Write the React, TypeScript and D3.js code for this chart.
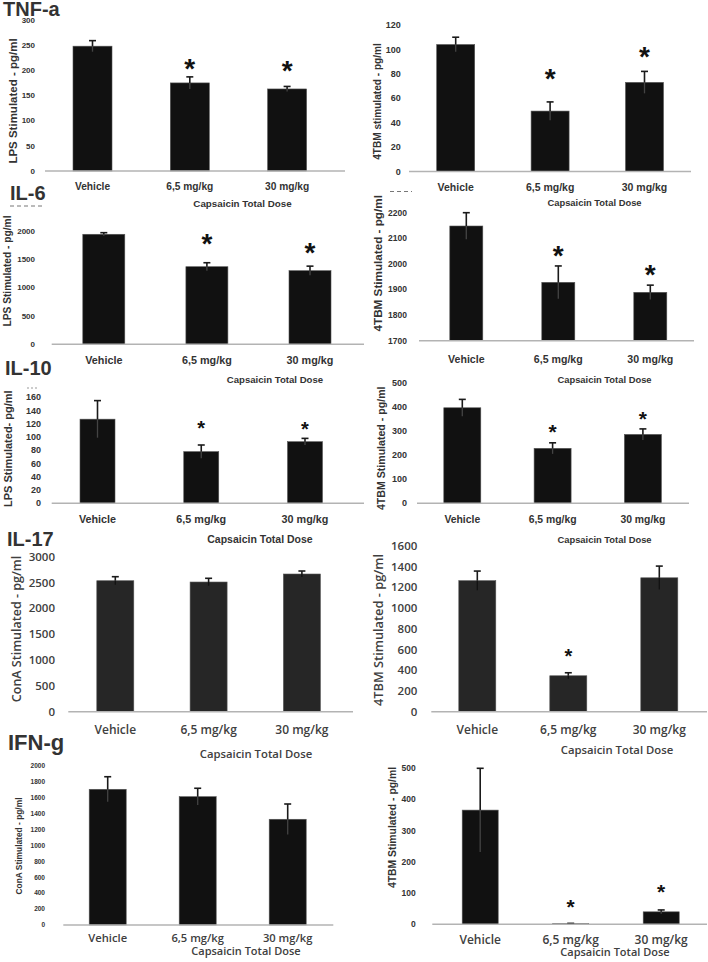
import React from "react";
import * as d3 from "d3";

const categories = ["Vehicle", "6,5 mg/kg", "30 mg/kg"];
const xAxisTitle = "Capsaicin Total Dose";
const rowTitles = ["TNF-a", "IL-6", "IL-10", "IL-17", "IFN-g"];

// TNF-a, LPS stimulated
const tnfLpsMean = [248, 175, 163];
const tnfLpsErr = [11, 12, 5];
const tnfLpsStar = [null, 218, 213];
const tnfLpsTicks = [0, 50, 100, 150, 200, 250, 300];

// TNF-a, 4TBM stimulated
const tnfTbmMean = [104, 49.5, 73];
const tnfTbmErr = [6, 7.5, 9];
const tnfTbmStar = [null, 82, 100];
const tnfTbmTicks = [0, 20, 40, 60, 80, 100, 120];

// IL-6, LPS stimulated
const il6LpsMean = [1937, 1366, 1296];
const il6LpsErr = [28, 70, 80];
const il6LpsStar = [null, 1894, 1731];
const il6LpsTicks = [0, 500, 1000, 1500, 2000];

// IL-6, 4TBM stimulated
const il6TbmMean = [2148, 1928, 1889];
const il6TbmErr = [52, 64, 28];
const il6TbmStar = [null, 2061, 1983];
const il6TbmTicks = [1700, 1800, 1900, 2000, 2100, 2200];

// IL-10, LPS stimulated
const il10LpsMean = [127, 78, 93];
const il10LpsErr = [28, 10, 5];
const il10LpsStar = [null, 121, 119];
const il10LpsTicks = [0, 20, 40, 60, 80, 100, 120, 140, 160];

// IL-10, 4TBM stimulated
const il10TbmMean = [398, 229, 287];
const il10TbmErr = [35, 23, 23];
const il10TbmStar = [null, 319, 371];
const il10TbmTicks = [0, 100, 200, 300, 400, 500];

// IL-17, ConA stimulated
const il17ConMean = [2535, 2510, 2665];
const il17ConErr = [78, 72, 58];
const il17ConStar = [null, null, null];
const il17ConTicks = [0, 500, 1000, 1500, 2000, 2500, 3000];

// IL-17, 4TBM stimulated
const il17TbmMean = [1265, 347, 1293];
const il17TbmErr = [93, 29, 113];
const il17TbmStar = [null, 579, null];
const il17TbmTicks = [0, 200, 400, 600, 800, 1000, 1200, 1400, 1600];

// IFN-g, ConA stimulated
const ifnConMean = [1707, 1614, 1330];
const ifnConErr = [158, 106, 192];
const ifnConStar = [null, null, null];
const ifnConTicks = [0, 200, 400, 600, 800, 1000, 1200, 1400, 1600, 1800, 2000];

// IFN-g, 4TBM stimulated
const ifnTbmMean = [366, 2, 40];
const ifnTbmErr = [134, 1, 6];
const ifnTbmStar = [null, 72, 120];
const ifnTbmTicks = [0, 100, 200, 300, 400, 500];

const yTitles = [
  "LPS Stimulated - pg/ml",
  "4TBM stimulated - pg/ml",
  "LPS Stimulated - pg/ml",
  "4TBM Stimulated - pg/ml",
  "LPS Stimulated- pg/ml",
  "4TBM Stimulated - pg/ml",
  "ConA Stimulated - pg/ml",
  "4TBM Stimulated - pg/ml",
  "ConA Stimulated - pg/ml",
  "4TBM Stimulated - pg/ml",
];

const LIB = "'Liberation Sans', Arial, sans-serif";
const OPEN = "'Open Sans', sans-serif";

type Layout = {
  yPix: [number, number];
  axisX: [number, number];
  c0: number; step: number; bw: number;
  tickX: number; tickSize: number; tickFam: string;
  xlabY: number; xlabSize: number; xlabFam: string;
  ylab: [number, number, number]; ylabFam: string;
  cap: [number, number, number]; capFam: string;
  starSize: number;
  fill: string;
};

const layouts: Layout[] = [
  { yPix: [171, 20], axisX: [45, 345], c0: 92.5, step: 97.3, bw: 39, tickX: 35, tickSize: 8, tickFam: LIB, xlabY: 190, xlabSize: 10.2, xlabFam: LIB, ylab: [12.5, 101, 11.5], ylabFam: LIB, cap: [242.5, 207.3, 9.8], capFam: LIB, starSize: 28, fill: "#111" },
  { yPix: [171.5, 25], axisX: [409, 691], c0: 455.7, step: 94.4, bw: 38, tickX: 400.7, tickSize: 9, tickFam: LIB, xlabY: 190.5, xlabSize: 10.5, xlabFam: LIB, ylab: [377, 101.5, 10.1], ylabFam: LIB, cap: [594.5, 206, 9.4], capFam: LIB, starSize: 28, fill: "#111" },
  { yPix: [344.3, 230.7], axisX: [51.7, 364], c0: 103.8, step: 103.1, bw: 42, tickX: 35, tickSize: 8, tickFam: LIB, xlabY: 363.5, xlabSize: 10.8, xlabFam: LIB, ylab: [7.5, 271, 10.2], ylabFam: LIB, cap: [275, 382.7, 9.6], capFam: LIB, starSize: 28, fill: "#111" },
  { yPix: [340.7, 212.7], axisX: [419, 694], c0: 466.3, step: 92, bw: 33, tickX: 407, tickSize: 8.5, tickFam: LIB, xlabY: 363.3, xlabSize: 10.6, xlabFam: LIB, ylab: [377.5, 263.3, 11.7], ylabFam: LIB, cap: [604.5, 382.7, 9.4], capFam: LIB, starSize: 28, fill: "#111" },
  { yPix: [503.3, 397.3], axisX: [51.7, 364], c0: 97.5, step: 103.75, bw: 35, tickX: 41, tickSize: 9, tickFam: LIB, xlabY: 523.3, xlabSize: 10.8, xlabFam: LIB, ylab: [7.5, 448.7, 11], ylabFam: LIB, cap: [260, 542.7, 10.5], capFam: LIB, starSize: 20, fill: "#111" },
  { yPix: [503.3, 383.3], axisX: [417, 689], c0: 462.3, step: 90.3, bw: 37, tickX: 407, tickSize: 9, tickFam: LIB, xlabY: 523.3, xlabSize: 10.4, xlabFam: LIB, ylab: [380.7, 448.3, 10.6], ylabFam: LIB, cap: [604.5, 543.3, 9.4], capFam: LIB, starSize: 21, fill: "#111" },
  { yPix: [711.7, 556.7], axisX: [68.3, 353], c0: 115.3, step: 93.3, bw: 37, tickX: 55, tickSize: 11.5, tickFam: OPEN, xlabY: 734.3, xlabSize: 12, xlabFam: OPEN, ylab: [16.7, 629, 12.5], ylabFam: OPEN, cap: [256, 757.7, 11.3], capFam: OPEN, starSize: 20, fill: "#262626" },
  { yPix: [711.7, 546], axisX: [431.3, 707], c0: 477.3, step: 91, bw: 37, tickX: 417.3, tickSize: 11.5, tickFam: OPEN, xlabY: 734.3, xlabSize: 12, xlabFam: OPEN, ylab: [378, 630, 12.8], ylabFam: OPEN, cap: [617, 754.3, 11.3], capFam: OPEN, starSize: 20, fill: "#262626" },
  { yPix: [925, 766], axisX: [63.3, 333.3], c0: 107.7, step: 90, bw: 37, tickX: 45, tickSize: 6.5, tickFam: LIB, xlabY: 941.7, xlabSize: 11.2, xlabFam: OPEN, ylab: [19, 846, 8.4], ylabFam: LIB, cap: [246, 955, 11], capFam: OPEN, starSize: 20, fill: "#111" },
  { yPix: [924.3, 768.3], axisX: [432.3, 707], c0: 480.2, step: 90.5, bw: 36, tickX: 415.7, tickSize: 8.5, tickFam: LIB, xlabY: 944, xlabSize: 12, xlabFam: OPEN, ylab: [392, 827.5, 10.4], ylabFam: LIB, cap: [615, 956, 11], capFam: OPEN, starSize: 21, fill: "#111" },
];

const means = [tnfLpsMean, tnfTbmMean, il6LpsMean, il6TbmMean, il10LpsMean, il10TbmMean, il17ConMean, il17TbmMean, ifnConMean, ifnTbmMean];
const errs = [tnfLpsErr, tnfTbmErr, il6LpsErr, il6TbmErr, il10LpsErr, il10TbmErr, il17ConErr, il17TbmErr, ifnConErr, ifnTbmErr];
const stars = [tnfLpsStar, tnfTbmStar, il6LpsStar, il6TbmStar, il10LpsStar, il10TbmStar, il17ConStar, il17TbmStar, ifnConStar, ifnTbmStar];
const ticks = [tnfLpsTicks, tnfTbmTicks, il6LpsTicks, il6TbmTicks, il10LpsTicks, il10TbmTicks, il17ConTicks, il17TbmTicks, ifnConTicks, ifnTbmTicks];

const titleLayout = [
  { x: 3, y: 15.5, size: 20 },
  { x: 10, y: 199.5, size: 20 },
  { x: 5, y: 374.5, size: 20 },
  { x: 7, y: 545.5, size: 20 },
  { x: 8, y: 750, size: 22 },
];

function Panel({ i }: { i: number }) {
  const L = layouts[i];
  const m = means[i];
  const e = errs[i];
  const s = stars[i];
  const t = ticks[i];
  const domain = [t[0], t[t.length - 1]];
  const y = d3.scaleLinear().domain(domain).range(L.yPix);
  const p = 1 - L.bw / L.step;
  const x = d3
    .scaleBand<string>()
    .domain(categories)
    .range([L.c0 - L.step / 2, L.c0 + 2.5 * L.step])
    .paddingInner(p)
    .paddingOuter(p / 2);
  const isOpen = (f: string) => f === OPEN;
  const col = (f: string) => (isOpen(f) ? "#404040" : "#333");
  const wt = (f: string) => (isOpen(f) ? 600 : "bold");
  const base = y(domain[0]);
  return (
    <g>
      {t.map((v) => (
        <text key={v} x={L.tickX} y={y(v)} dy="0.35em" textAnchor="end" fontFamily={L.tickFam} fontWeight={wt(L.tickFam)} fontSize={L.tickSize} fill={col(L.tickFam)}>
          {v}
        </text>
      ))}
      {categories.map((c, k) => {
        const bx = x(c) as number;
        const cx = bx + x.bandwidth() / 2;
        const top = y(m[k]);
        const eTop = y(m[k] + e[k]);
        const eBot = Math.min(base, y(m[k] - e[k]));
        return (
          <g key={c}>
            <rect x={bx} y={top} width={x.bandwidth()} height={base - top} fill={L.fill} stroke="#555" strokeWidth={0.6} />
            <line x1={cx} x2={cx} y1={top} y2={eBot} stroke={L.fill === "#111" ? "#444" : "#111"} strokeWidth={1.3} />
            <line x1={cx} x2={cx} y1={eTop} y2={top} stroke="#1a1a1a" strokeWidth={1.6} />
            <line x1={cx - 3.5} x2={cx + 3.5} y1={eTop} y2={eTop} stroke="#1a1a1a" strokeWidth={1.6} />
            {s[k] != null && (
              <text x={cx} y={y(s[k] as number) + 0.58 * L.starSize} textAnchor="middle" fontFamily={LIB} fontWeight="bold" fontSize={L.starSize} fill="#111">
                *
              </text>
            )}
            <text x={cx} y={L.xlabY} textAnchor="middle" fontFamily={L.xlabFam} fontWeight={wt(L.xlabFam)} fontSize={L.xlabSize} fill={col(L.xlabFam)}>
              {c}
            </text>
          </g>
        );
      })}
      <line x1={L.axisX[0]} x2={L.axisX[1]} y1={base} y2={base} stroke="#b3b3b3" strokeWidth={1.5} />
      <text transform={`translate(${L.ylab[0]},${L.ylab[1]}) rotate(-90)`} textAnchor="middle" dominantBaseline="central" fontFamily={L.ylabFam} fontWeight={wt(L.ylabFam)} fontSize={L.ylab[2]} fill={col(L.ylabFam)}>
        {yTitles[i]}
      </text>
      <text x={L.cap[0]} y={L.cap[1]} textAnchor="middle" fontFamily={L.capFam} fontWeight={wt(L.capFam)} fontSize={L.cap[2]} fill={col(L.capFam)}>
        {xAxisTitle}
      </text>
    </g>
  );
}

export default function App() {
  return (
    <div style={{ position: "absolute", left: 0, top: 0 }}>
      <svg width={708} height={962} viewBox="0 0 708 962" style={{ display: "block", background: "#fff" }}>
        <rect width={708} height={962} fill="#fff" />
        {rowTitles.map((tt, r) => (
          <text key={tt} x={titleLayout[r].x} y={titleLayout[r].y} fontFamily={LIB} fontWeight="bold" fontSize={titleLayout[r].size} fill="#333">
            {tt}
          </text>
        ))}
        {layouts.map((_, i) => (
          <Panel key={i} i={i} />
        ))}
        <line x1={10} x2={42} y1={206} y2={206} stroke="#777" strokeWidth={1} strokeDasharray="4 3" />
        <line x1={390} x2={412} y1={191.5} y2={191.5} stroke="#777" strokeWidth={1} strokeDasharray="4 3" />
        <line x1={27} x2={38} y1={388} y2={388} stroke="#999" strokeWidth={1} strokeDasharray="2 2" />
      </svg>
    </div>
  );
}
